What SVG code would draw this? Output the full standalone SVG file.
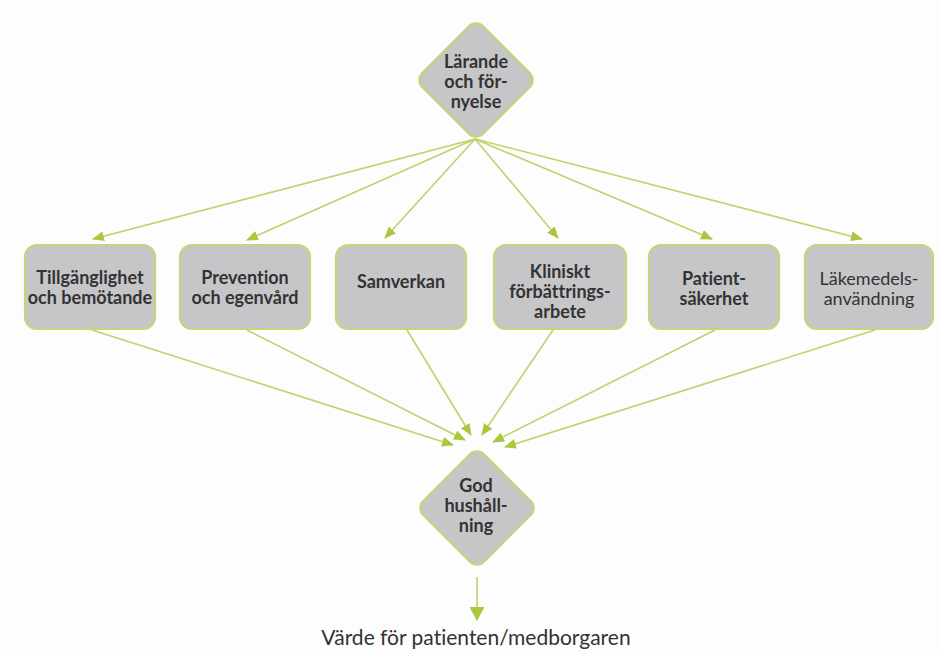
<svg xmlns="http://www.w3.org/2000/svg" width="941" height="654" viewBox="0 0 941 654">
<style>
.node{fill:#c6c6c9;stroke:#c2d77a;stroke-width:2.2}
.t{font-family:Lato,"Open Sans","Liberation Sans",sans-serif;font-size:18px;font-weight:bold;fill:#333;text-anchor:middle;font-variant-ligatures:none}
.r{font-weight:normal}
.c{fill:none;stroke:#bcd46a;stroke-width:1.6}
</style>
<defs>
<marker id="ah" viewBox="0 0 12 10" refX="11" refY="5" markerWidth="12" markerHeight="10" markerUnits="userSpaceOnUse" orient="auto">
<path d="M0,0 L12,5 L0,10 Z" fill="#a9c83f"/>
</marker>
<marker id="ahb" viewBox="0 0 14 15" refX="13" refY="7.5" markerWidth="14" markerHeight="15" markerUnits="userSpaceOnUse" orient="auto">
<path d="M0,0 L14,7.5 L0,15 Z" fill="#a9c83f"/>
</marker>
</defs>
<rect width="941" height="654" fill="#fdfdfd"/>
<g id="connectors">
<line class="c" x1="475" y1="139" x2="93" y2="239" marker-end="url(#ah)"/>
<line class="c" x1="475" y1="139" x2="247" y2="240" marker-end="url(#ah)"/>
<line class="c" x1="475" y1="139" x2="385" y2="238" marker-end="url(#ah)"/>
<line class="c" x1="475" y1="139" x2="558" y2="238" marker-end="url(#ah)"/>
<line class="c" x1="475" y1="139" x2="712" y2="239" marker-end="url(#ah)"/>
<line class="c" x1="475" y1="139" x2="862" y2="239" marker-end="url(#ah)"/>
<line class="c" x1="92" y1="330" x2="453" y2="445" marker-end="url(#ah)"/>
<line class="c" x1="247" y1="330" x2="465" y2="440" marker-end="url(#ah)"/>
<line class="c" x1="407" y1="330" x2="471" y2="435" marker-end="url(#ah)"/>
<line class="c" x1="553" y1="330" x2="482" y2="435" marker-end="url(#ah)"/>
<line class="c" x1="715" y1="330" x2="493" y2="442" marker-end="url(#ah)"/>
<line class="c" x1="875" y1="330" x2="505" y2="447" marker-end="url(#ah)"/>
<line class="c" x1="477" y1="577" x2="477" y2="620" marker-end="url(#ahb)"/>
</g>
<g id="n-larande">
<rect class="node" x="-43" y="-43" width="86" height="86" rx="10" transform="translate(476,80) rotate(45)"/>
<text class="t" x="476" y="68">Lärande</text>
<text class="t" x="476" y="88">och för-</text>
<text class="t" x="476" y="108">nyelse</text>
</g>
<g id="n-tillganglighet">
<rect class="node" x="25" y="245" width="130" height="84" rx="12"/>
<text class="t" x="90" y="284">Tillgänglighet</text>
<text class="t" x="90" y="304">och bemötande</text>
</g>
<g id="n-prevention">
<rect class="node" x="180" y="245" width="130" height="84" rx="12"/>
<text class="t" x="245" y="284">Prevention</text>
<text class="t" x="245" y="304">och egenvård</text>
</g>
<g id="n-samverkan">
<rect class="node" x="336" y="245" width="130" height="84" rx="12"/>
<text class="t" x="401" y="288">Samverkan</text>
</g>
<g id="n-kliniskt">
<rect class="node" x="494" y="245" width="132" height="84" rx="12"/>
<text class="t" x="560" y="278">Kliniskt</text>
<text class="t" x="560" y="298">förbättrings-</text>
<text class="t" x="560" y="318">arbete</text>
</g>
<g id="n-patient">
<rect class="node" x="649" y="245" width="130" height="84" rx="12"/>
<text class="t" x="714" y="285">Patient-</text>
<text class="t" x="714" y="305">säkerhet</text>
</g>
<g id="n-lakemedel">
<rect class="node" x="805" y="245" width="128" height="84" rx="12"/>
<text class="t r" x="869" y="285">Läkemedels-</text>
<text class="t r" x="869" y="305">användning</text>
</g>
<g id="n-god">
<rect class="node" x="-43" y="-43" width="86" height="86" rx="10" transform="translate(477,508) rotate(45)"/>
<text class="t" x="476" y="492">God</text>
<text class="t" x="476" y="512">hushåll-</text>
<text class="t" x="476" y="532">ning</text>
</g>
<g id="n-varde">
<text class="t r" x="476" y="645" style="font-size:21px">Värde för patienten/medborgaren</text>
</g>
</svg>
